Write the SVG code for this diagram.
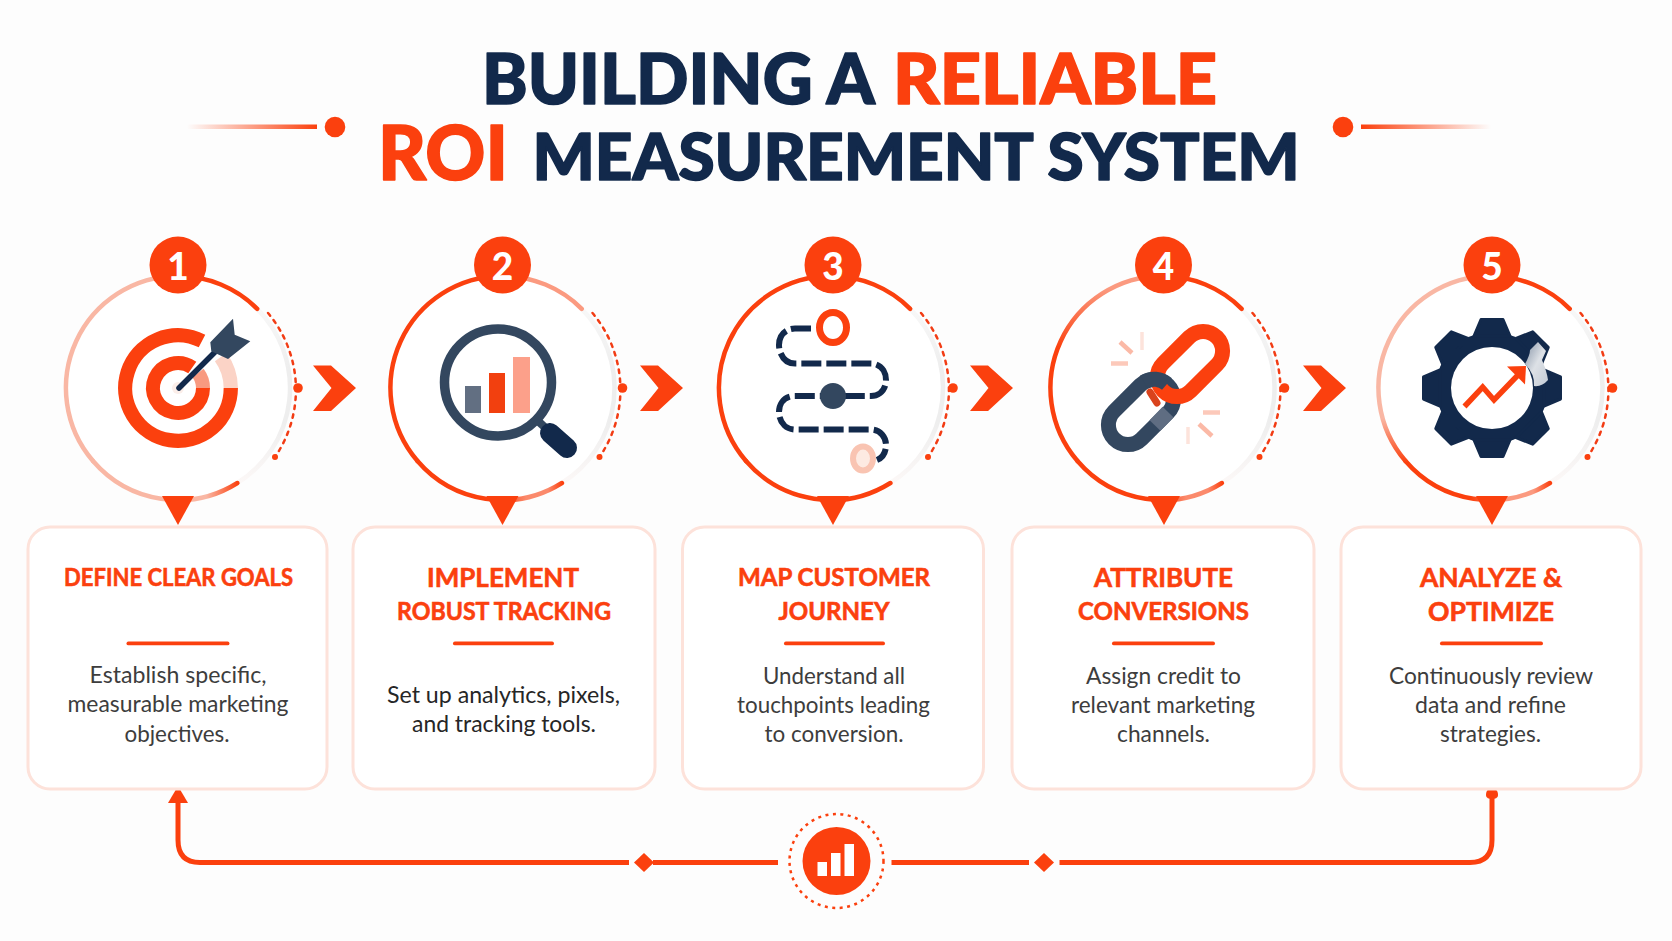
<svg xmlns="http://www.w3.org/2000/svg" width="1672" height="941" viewBox="0 0 1672 941">
<style>
text{font-family:"Lato","Liberation Sans",sans-serif}
.t{font-size:70px;font-weight:900;stroke-width:1.6;stroke-linejoin:round}
.navy{fill:#12294b;stroke:#12294b}.or{fill:#fb400e}
.tor{stroke:#fb400e}
.h{font-size:24px;font-weight:700;fill:#fb400e;stroke:#fb400e;stroke-width:.6;text-anchor:middle}
.b{font-size:24px;font-weight:400;fill:#3d3d3d;text-anchor:middle}
.n{font-size:37px;font-weight:900;fill:#fff;text-anchor:middle}
.box{fill:#fff;stroke:#fde2da;stroke-width:3}
.rule{fill:#fb400e}
.arc{fill:none;stroke-width:4.5;stroke-linecap:round}
.s{stroke:#fb400e}.p{stroke:#f9b7a4}
.dots{fill:none;stroke:#f23c14;stroke-width:2.5;stroke-linecap:round;stroke-dasharray:3.5 5.5}
.loop{fill:none;stroke:#fb400e;stroke-width:5}
</style>
<defs>
<linearGradient id="fadeL" x1="0" x2="1" y1="0" y2="0"><stop offset="0" stop-color="#fb400e" stop-opacity="0"/><stop offset="1" stop-color="#fb400e"/></linearGradient>
<linearGradient id="fadeR" x1="0" x2="1" y1="0" y2="0"><stop offset="0" stop-color="#fb400e"/><stop offset="1" stop-color="#fb400e" stop-opacity="0"/></linearGradient>
<linearGradient id="gray" gradientUnits="userSpaceOnUse" x1="0" x2="0" y1="-80" y2="95"><stop offset="0" stop-color="#f8f8f8"/><stop offset=".35" stop-color="#eeeeee"/><stop offset=".65" stop-color="#eeeeee"/><stop offset="1" stop-color="#fcf8f7"/></linearGradient>
<linearGradient id="b1" gradientUnits="userSpaceOnUse" x1="60" x2="-85" y1="0" y2="0"><stop offset="0" stop-color="#fb400e"/><stop offset=".22" stop-color="#f9b7a4"/></linearGradient>
<linearGradient id="b2" gradientUnits="userSpaceOnUse" x1="60" x2="-85" y1="0" y2="0"><stop offset="0" stop-color="#fb400e"/><stop offset=".1" stop-color="#fb8a6c"/><stop offset=".25" stop-color="#fb8a6c"/><stop offset=".42" stop-color="#fb400e"/></linearGradient>
<linearGradient id="b5" gradientUnits="userSpaceOnUse" x1="60" x2="-85" y1="0" y2="0"><stop offset="0" stop-color="#fb400e"/><stop offset=".12" stop-color="#fb9a80"/><stop offset=".3" stop-color="#fb9a80"/><stop offset=".55" stop-color="#fb400e"/></linearGradient>
<linearGradient id="a4" gradientUnits="userSpaceOnUse" x1="0" x2="0" y1="-100" y2="-40"><stop offset="0" stop-color="#fb9a80"/><stop offset="1" stop-color="#fb400e"/></linearGradient>
<linearGradient id="a5" gradientUnits="userSpaceOnUse" x1="0" x2="0" y1="30" y2="75"><stop offset="0" stop-color="#f9b7a4"/><stop offset="1" stop-color="#fb400e"/></linearGradient>
<linearGradient id="shine" x1="0" x2="1" y1="0" y2="1"><stop offset="0" stop-color="#8593a6"/><stop offset=".5" stop-color="#dde1e6"/><stop offset="1" stop-color="#c3cbd5"/></linearGradient>
<g id="right">
<path d="M79.2,-79.2A112,112 0 0 1 59.4,95" fill="none" stroke="url(#gray)" stroke-width="4.5"/>
</g>
<g id="tooth"><polygon points="-18,-52 -11,-68.5 11,-68.5 18,-52" fill="#12294b" stroke="#12294b" stroke-width="3" stroke-linejoin="round"/></g>
<polygon id="chev" class="or" points="0,-22.5 18,-22.5 43,0 18,23 0,23 18.5,0"/>
<polygon id="ptr" class="or" points="-16,108 16,108 0,137"/>
</defs>
<rect width="1672" height="941" fill="#fdfdfd"/>

<g id="title">
<text class="t navy" x="482" y="104" textLength="393" lengthAdjust="spacingAndGlyphs">BUILDING A</text>
<text class="t or tor" x="893" y="104" textLength="324" lengthAdjust="spacingAndGlyphs">RELIABLE</text>
<text class="t or tor" x="378" y="180" style="font-size:76px" textLength="130" lengthAdjust="spacingAndGlyphs">ROI</text>
<text class="t navy" x="532.5" y="180" style="font-size:65px" textLength="767" lengthAdjust="spacingAndGlyphs">MEASUREMENT SYSTEM</text>
<rect x="187" y="124.5" width="130" height="4.5" fill="url(#fadeL)"/>
<circle class="or" cx="335" cy="127" r="10.3"/>
<circle class="or" cx="1343" cy="127" r="10.3"/>
<rect x="1361" y="124.5" width="130" height="4.5" fill="url(#fadeR)"/>
</g>

<g id="node1">
<g transform="translate(178,388)">
<circle r="110" fill="#fff"/>
<use href="#right"/>
<path class="arc" stroke="url(#b1)" d="M59.4,95A112,112 0 0 1 -85,73"/>
<path class="arc p" d="M-85,73A112,112 0 0 1 0,-112"/>
<path class="arc s" d="M0,-112A112,112 0 0 1 79.2,-79.2"/>
<path class="dots" d="M90,-75A119,119 0 0 1 97,69"/>
<circle cx="97" cy="69" r="3" class="or"/><circle cx="120" cy="0" r="4.8" class="or"/>
<use href="#ptr"/>
<circle cy="-123" r="28.5" class="or"/>
<text class="n" y="-108.5">1</text>
<path d="M24,-47A52.8,52.8 0 1 0 52.8,0" fill="none" class="s" stroke-width="14.3"/>
<path d="M52.8,0A52.8,52.8 0 0 0 42.7,-31" fill="none" stroke="#fbd3c6" stroke-width="14.3"/>
<path d="M14.3,-20.5A25,25 0 1 0 25,0" fill="none" class="s" stroke-width="14"/>
<path d="M25,0A25,25 0 0 0 20,-15" fill="none" stroke="#f89a80" stroke-width="14"/>
<circle r="6" fill="#fbeee9"/>
<line x1="1" y1="0" x2="46" y2="-45" stroke="#12294b" stroke-width="5.5" stroke-linecap="round"/>
<polygon points="32.3,-45.7 55,-69.3 56.7,-53.3 72.3,-46.7 50,-29 33.3,-36.7" fill="#33475f"/>
</g>
</g>

<g id="node2">
<g transform="translate(502.5,388)">
<circle r="110" fill="#fff"/>
<use href="#right"/>
<path class="arc" stroke="url(#b2)" d="M59.4,95A112,112 0 0 1 -85,73"/>
<path class="arc s" d="M-85,73A112,112 0 0 1 0,-112"/>
<path class="arc" stroke="#fb9a80" d="M0,-112A112,112 0 0 1 79.2,-79.2"/>
<path class="dots" d="M90,-75A119,119 0 0 1 97,69"/>
<circle cx="97" cy="69" r="3" class="or"/><circle cx="120" cy="0" r="4.8" class="or"/>
<use href="#ptr"/>
<circle cy="-123" r="28.5" class="or"/>
<text class="n" y="-108.5">2</text>
</g>
<line x1="537" y1="420" x2="553" y2="435" stroke="#33475f" stroke-width="8"/>
<line x1="550" y1="433" x2="567" y2="448" stroke="#12294b" stroke-width="20" stroke-linecap="round"/>
<circle cx="498" cy="382.5" r="53.5" fill="#fff" stroke="#33475f" stroke-width="9.5"/>
<rect x="465" y="386" width="16" height="27" fill="#626f82"/>
<rect x="489" y="373" width="16" height="40" fill="#f2400f"/>
<rect x="513" y="357" width="17" height="56" fill="#fca08a"/>
</g>

<g id="node3">
<g transform="translate(831,388)">
<circle r="110" fill="#fff"/>
<use href="#right"/>
<path class="arc s" d="M59.4,95A112,112 0 0 1 -85,73"/>
<path class="arc s" d="M-85,73A112,112 0 0 1 0,-112"/>
<path class="arc s" d="M0,-112A112,112 0 0 1 79.2,-79.2"/>
<path class="dots" d="M90,-75A119,119 0 0 1 97,69"/>
<circle cx="97" cy="69" r="3" class="or"/><circle cx="122" cy="0" r="4.8" class="or"/>
<use href="#ptr" x="2"/>
<circle cx="2" cy="-123" r="28.5" class="or"/>
<text class="n" x="2" y="-108.5">3</text>
</g>
<path d="M811,328.5H795C785,328.5 779,336 779,345S785,363.5 795,363.5H871C880,363.5 886,371 886,380S880,396 871,396H795C785,396 779,403 779,412S785,429.5 795,429.5H871C880,429.5 886,437 886,445S882,458 877,460" fill="none" stroke="#12294b" stroke-width="6" stroke-dasharray="20 5"/>
<ellipse cx="833" cy="327.5" rx="13.5" ry="15" fill="#fff" stroke="#fb400e" stroke-width="7"/>
<circle cx="833" cy="396" r="13" fill="#33475f"/>
<ellipse cx="863" cy="458.5" rx="10" ry="12" fill="#fdeae2" stroke="#f9c4b2" stroke-width="6"/>
</g>

<g id="node4">
<g transform="translate(1162.5,388)">
<circle r="110" fill="#fff"/>
<use href="#right"/>
<path class="arc" stroke="url(#b2)" d="M59.4,95A112,112 0 0 1 -85,73"/>
<path class="arc" stroke="url(#a4)" d="M-85,73A112,112 0 0 1 0,-112"/>
<path class="arc s" d="M0,-112A112,112 0 0 1 79.2,-79.2"/>
<path class="dots" d="M90,-75A119,119 0 0 1 97,69"/>
<circle cx="97" cy="69" r="3" class="or"/><circle cx="122" cy="0" r="4.8" class="or"/>
<use href="#ptr" x="1.5"/>
<circle cx="1" cy="-123" r="28.5" class="or"/>
<text class="n" x="1" y="-108.5">4</text>
</g>
<g fill="none" stroke-width="4.5">
<line x1="1120" y1="342" x2="1132" y2="353" stroke="#fbb9a6"/>
<line x1="1142" y1="332" x2="1142" y2="350" stroke="#fde3db" stroke-width="3.5"/>
<line x1="1111" y1="363.5" x2="1128" y2="363.5" stroke="#fcc9ba"/>
<line x1="1203" y1="412.5" x2="1220" y2="412.5" stroke="#fcc9ba"/>
<line x1="1199" y1="424" x2="1212" y2="436" stroke="#fbb9a6"/>
<line x1="1188" y1="427" x2="1188" y2="444" stroke="#fde3db" stroke-width="3.5"/>
</g>
<rect x="-38" y="-19.5" width="76" height="39" rx="19.5" transform="translate(1141,412) rotate(-45)" fill="none" stroke="#33475f" stroke-width="15"/>
<line x1="1168" y1="412" x2="1155" y2="425.5" stroke="#5f6d82" stroke-width="15"/>
<path d="M1150,392L1157,403" fill="none" stroke="#d9431d" stroke-width="7" stroke-linecap="round"/>
<rect x="-38" y="-19.5" width="76" height="39" rx="19.5" transform="translate(1190,364) rotate(-45)" fill="none" stroke="#fb400e" stroke-width="15"/>
<path d="M1144,382A19.5,19.5 0 0 1 1167,384" fill="none" stroke="#33475f" stroke-width="15"/>
</g>

<g id="node5">
<g transform="translate(1490.5,388)">
<circle r="110" fill="#fff"/>
<use href="#right"/>
<path class="arc" stroke="url(#b5)" d="M59.4,95A112,112 0 0 1 -85,73"/>
<path class="arc" stroke="url(#a5)" d="M-85,73A112,112 0 0 1 0,-112"/>
<path class="arc s" d="M0,-112A112,112 0 0 1 79.2,-79.2"/>
<path class="dots" d="M90,-75A119,119 0 0 1 97,69"/>
<circle cx="97" cy="69" r="3" class="or"/><circle cx="122" cy="0" r="4.8" class="or"/>
<use href="#ptr" x="1.5"/>
<circle cx="1.5" cy="-123" r="28.5" class="or"/>
<text class="n" x="1.5" y="-108.5">5</text>
</g>
<g transform="translate(1492,388)">
<circle r="56" fill="#12294b"/>
<use href="#tooth"/><use href="#tooth" transform="rotate(45)"/><use href="#tooth" transform="rotate(90)"/><use href="#tooth" transform="rotate(135)"/><use href="#tooth" transform="rotate(180)"/><use href="#tooth" transform="rotate(225)"/><use href="#tooth" transform="rotate(270)"/><use href="#tooth" transform="rotate(315)"/>
<circle r="41" fill="#fff"/>
<path d="M33,-24Q38,-33 38,-38L46,-46L54,-37L50,-28Q55,-16 56,-8Q50,-1 42,-2Q43,-14 33,-24Z" fill="url(#shine)"/>
</g>
<polyline points="1464.5,406.5 1482.7,387 1494,400 1518,375" fill="none" stroke="#fb400e" stroke-width="5.5"/>
<polygon class="or" points="1507,366.5 1526,366 1525,384.5"/>
</g>

<g id="connectors">
<use href="#chev" x="313" y="388"/>
<use href="#chev" x="640" y="388"/>
<use href="#chev" x="970" y="388"/>
<use href="#chev" x="1303" y="388"/>
<path class="loop" d="M178,803V840Q178,862.5 200,862.5H629"/>
<polygon class="or" points="178,786 188,803 168,803"/>
<polygon class="or" points="644,853 654,862.5 644,872 634,862.5"/>
<path class="loop" d="M653,862.5H778"/>
<path class="loop" d="M891.5,862.5H1029"/>
<polygon class="or" points="1044,853 1054,862.5 1044,872 1034,862.5"/>
<path class="loop" d="M1059.5,862.5H1470Q1492,862.5 1492,840V795"/>
<path class="or" d="M1492,786C1496,789 1498,791 1498,795C1498,798 1495,799 1492,799C1489,799 1486,798 1486,795C1486,791 1488,789 1492,786Z"/>
</g>
<g id="hub">
<circle cx="836.5" cy="861" r="34" class="or"/>
<circle cx="836.5" cy="861" r="47" fill="none" stroke="#fb400e" stroke-width="2.5" stroke-dasharray="3 4.5"/>
<rect x="817.5" y="862" width="9.5" height="14" fill="#fff"/>
<rect x="831" y="853" width="9.5" height="23" fill="#fff"/>
<rect x="844.5" y="844" width="9.5" height="32" fill="#fff"/>
</g>

<g id="card1">
<rect class="box" x="28" y="527" width="299" height="262" rx="22"/>
<text class="h" x="178.5" y="586" textLength="229" lengthAdjust="spacingAndGlyphs">DEFINE CLEAR GOALS</text>
<rect class="rule" x="126.5" y="641.5" width="103" height="3.8" rx="1.9"/>
<text class="b" x="178" y="683" textLength="177" lengthAdjust="spacingAndGlyphs">Establish specific,</text>
<text class="b" x="178" y="712" textLength="221" lengthAdjust="spacingAndGlyphs">measurable marketing</text>
<text class="b" x="177" y="741.5" textLength="105" lengthAdjust="spacingAndGlyphs">objectives.</text>
</g>
<g id="card2">
<rect class="box" x="353" y="527" width="302" height="262" rx="22"/>
<text class="h" x="503" y="587" style="font-size:27px" textLength="152" lengthAdjust="spacingAndGlyphs">IMPLEMENT</text>
<text class="h" x="504" y="619.5" textLength="214" lengthAdjust="spacingAndGlyphs">ROBUST TRACKING</text>
<rect class="rule" x="453" y="641.5" width="101" height="3.8" rx="1.9"/>
<text class="b" x="503.5" y="703" style="fill:#262626" textLength="233" lengthAdjust="spacingAndGlyphs">Set up analytics, pixels,</text>
<text class="b" x="504" y="732" style="fill:#262626" textLength="184" lengthAdjust="spacingAndGlyphs">and tracking tools.</text>
</g>
<g id="card3">
<rect class="box" x="682.5" y="527" width="301" height="262" rx="22"/>
<text class="h" x="834" y="586" textLength="192" lengthAdjust="spacingAndGlyphs">MAP CUSTOMER</text>
<text class="h" x="834" y="619.5" textLength="111" lengthAdjust="spacingAndGlyphs">JOURNEY</text>
<rect class="rule" x="784" y="641.5" width="101" height="3.8" rx="1.9"/>
<text class="b" x="834" y="684" textLength="142" lengthAdjust="spacingAndGlyphs">Understand all</text>
<text class="b" x="833.5" y="713" textLength="193" lengthAdjust="spacingAndGlyphs">touchpoints leading</text>
<text class="b" x="834" y="742" textLength="139" lengthAdjust="spacingAndGlyphs">to conversion.</text>
</g>
<g id="card4">
<rect class="box" x="1012" y="527" width="302" height="262" rx="22"/>
<text class="h" x="1163.5" y="587" style="font-size:26px" textLength="139" lengthAdjust="spacingAndGlyphs">ATTRIBUTE</text>
<text class="h" x="1163.5" y="619.5" textLength="171" lengthAdjust="spacingAndGlyphs">CONVERSIONS</text>
<rect class="rule" x="1112" y="641.5" width="103" height="3.8" rx="1.9"/>
<text class="b" x="1163.5" y="684" textLength="155" lengthAdjust="spacingAndGlyphs">Assign credit to</text>
<text class="b" x="1163" y="713" textLength="184" lengthAdjust="spacingAndGlyphs">relevant marketing</text>
<text class="b" x="1163.5" y="742" textLength="93" lengthAdjust="spacingAndGlyphs">channels.</text>
</g>
<g id="card5">
<rect class="box" x="1341" y="527" width="300" height="262" rx="22"/>
<text class="h" x="1491" y="587" style="font-size:26px" textLength="142" lengthAdjust="spacingAndGlyphs">ANALYZE &amp;</text>
<text class="h" x="1491" y="620.5" style="font-size:26px" textLength="126" lengthAdjust="spacingAndGlyphs">OPTIMIZE</text>
<rect class="rule" x="1440" y="641.5" width="103" height="3.8" rx="1.9"/>
<text class="b" x="1491" y="684" textLength="204" lengthAdjust="spacingAndGlyphs">Continuously review</text>
<text class="b" x="1490.5" y="713" textLength="151" lengthAdjust="spacingAndGlyphs">data and refine</text>
<text class="b" x="1490.5" y="742" textLength="101" lengthAdjust="spacingAndGlyphs">strategies.</text>
</g>
</svg>
